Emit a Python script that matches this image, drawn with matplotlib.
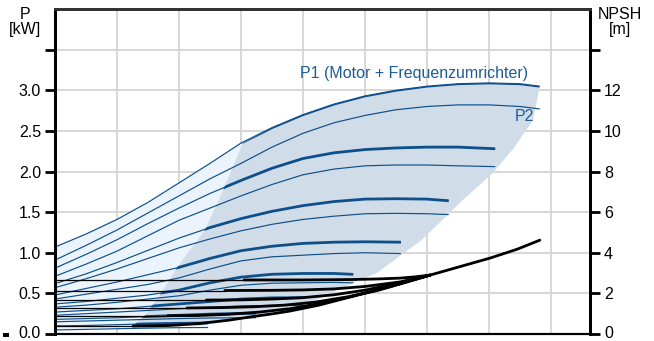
import matplotlib
matplotlib.use("Agg")
import matplotlib.pyplot as plt
import matplotlib.transforms as mtransforms
from matplotlib.patches import Polygon, Rectangle

plt.rcParams["font.family"] = ["Liberation Sans", "DejaVu Sans"]

# Leistungskurven je Drehzahlstufe: x = Förderstrom (Rastereinheiten), P in kW
speed_x = [
    [0, 0.5, 1, 1.5, 2, 2.5, 3, 3.5, 4, 4.5, 5, 5.5, 6, 6.5, 7, 7.5, 7.82],
    [0, 0.5, 1, 1.5, 2, 2.5, 3, 3.5, 4, 4.5, 5, 5.5, 6, 6.5, 7.10],
    [0, 0.5, 1, 1.5, 2, 2.5, 3, 3.5, 4, 4.5, 5, 5.5, 6, 6.35],
    [0, 0.5, 1, 1.5, 2, 2.5, 3, 3.5, 4, 4.5, 5, 5.58],
    [0, 0.5, 1, 1.5, 2, 2.5, 3, 3.5, 4, 4.5, 4.81],
    [0, 0.5, 1, 1.5, 2, 2.5, 3, 3.5, 4.02],
    [0, 0.5, 1, 1.5, 2, 2.5, 3, 3.24],
    [0, 0.5, 1, 1.5, 2, 2.47],
]
# P1 (Motor + Frequenzumrichter)
p1_y = [
    [1.07, 1.23, 1.41, 1.62, 1.86, 2.10, 2.35, 2.54, 2.70, 2.83, 2.93, 3.00, 3.05, 3.08, 3.09, 3.08, 3.05],
    [0.81, 0.98, 1.16, 1.36, 1.55, 1.73, 1.89, 2.04, 2.16, 2.23, 2.27, 2.29, 2.30, 2.30, 2.28],
    [0.62, 0.74, 0.88, 1.03, 1.18, 1.31, 1.42, 1.51, 1.58, 1.63, 1.66, 1.665, 1.66, 1.64],
    [0.48, 0.56, 0.64, 0.73, 0.82, 0.93, 1.025, 1.08, 1.115, 1.13, 1.135, 1.13],
    [0.37, 0.40, 0.44, 0.48, 0.54, 0.63, 0.70, 0.735, 0.745, 0.745, 0.734],
    [0.27, 0.29, 0.31, 0.34, 0.37, 0.40, 0.43, 0.445, 0.447],
    [0.18, 0.19, 0.20, 0.215, 0.23, 0.245, 0.253, 0.255],
    [0.10, 0.105, 0.115, 0.125, 0.132, 0.135],
]
# P2
p2_y = [
    [0.91, 1.09, 1.28, 1.49, 1.70, 1.91, 2.10, 2.30, 2.47, 2.60, 2.69, 2.76, 2.80, 2.82, 2.82, 2.80, 2.77],
    [0.71, 0.86, 1.02, 1.21, 1.40, 1.55, 1.70, 1.84, 1.96, 2.03, 2.07, 2.08, 2.08, 2.07, 2.06],
    [0.57, 0.68, 0.80, 0.93, 1.06, 1.17, 1.27, 1.35, 1.41, 1.45, 1.48, 1.485, 1.48, 1.47],
    [0.43, 0.49, 0.55, 0.61, 0.69, 0.80, 0.90, 0.95, 0.97, 0.99, 1.00, 0.99],
    [0.33, 0.355, 0.39, 0.43, 0.47, 0.54, 0.60, 0.625, 0.63, 0.635, 0.63],
    [0.23, 0.25, 0.27, 0.29, 0.31, 0.33, 0.345, 0.352, 0.353],
    [0.15, 0.16, 0.17, 0.18, 0.19, 0.197, 0.20, 0.20],
    [0.05, 0.057, 0.065, 0.072, 0.078, 0.08],
]

# Grenzen des Betriebsbereichs (dunkle Fläche)
area_right_x = [7.82, 7.71, 7.39, 7.06, 6.58, 5.92, 5.19, 4.81, 4.0, 3.15, 2.34, 1.24]
area_right_y = [3.05, 2.63, 2.28, 1.98, 1.65, 1.16, 0.75, 0.63, 0.34, 0.20, 0.10, 0.09]
area_left_x = [1.24, 1.45, 1.69, 1.97, 2.42, 2.71, 3.03]
area_left_y = [0.09, 0.23, 0.48, 0.82, 1.28, 1.77, 2.35]

# NPSH-Kurven [m]
npsh_x = [
    [3.05, 4.0, 4.76, 5.2, 5.56, 5.8, 6.05],
    [2.74, 3.5, 4.0, 4.5, 5.0, 5.56, 6.05],
    [2.44, 3.0, 3.5, 4.0, 4.5, 5.0, 5.56, 6.05],
    [2.13, 2.7, 3.2, 3.7, 4.2, 4.7, 5.2, 5.6, 6.05],
    [1.82, 2.3, 2.8, 3.3, 3.8, 4.3, 4.8, 5.3, 5.7, 6.05],
    [1.26, 1.6, 1.85, 2.34, 2.8, 3.15, 3.5, 3.79, 4.27, 4.76, 5.2, 5.56, 6.05, 6.5, 7.02, 7.45, 7.82],
]
npsh_y = [
    [2.66, 2.66, 2.68, 2.71, 2.75, 2.81, 2.90],
    [2.14, 2.15, 2.17, 2.22, 2.34, 2.56, 2.90],
    [1.67, 1.68, 1.72, 1.79, 1.93, 2.16, 2.51, 2.90],
    [1.28, 1.30, 1.34, 1.42, 1.57, 1.82, 2.14, 2.50, 2.90],
    [0.90, 0.91, 0.97, 1.08, 1.25, 1.52, 1.86, 2.25, 2.60, 2.90],
    [0.39, 0.40, 0.42, 0.52, 0.68, 0.84, 0.99, 1.13, 1.43, 1.82, 2.17, 2.46, 2.90, 3.29, 3.74, 4.17, 4.62],
]

p_ticks = [0.0, 0.5, 1.0, 1.5, 2.0, 2.5, 3.0, 3.5]
p_labels = ["0.0", "0.5", "1.0", "1.5", "2.0", "2.5", "3.0", ""]
npsh_ticks = [0, 2, 4, 6, 8, 10, 12, 14]
npsh_labels = ["0", "2", "4", "6", "8", "10", "12", ""]

BLUE = "#0d4f8b"
TEXT_BLUE = "#1f5c96"
DARK_FILL = "#d0dce8"
LIGHT_FILL = "#ebf4fc"

fig = plt.figure(figsize=(6.54, 3.41), dpi=100)
W, H = 654, 341
ax = fig.add_axes([55 / W, 7 / H, 535 / W, 325 / H])
ax.set_xlim(0, 535 / 62)
ax.set_ylim(0, 4.0)

ax.set_xticks(range(1, 9))
ax.set_xticklabels([])
ax.tick_params(axis="x", length=0)
ax.set_yticks(p_ticks)
ax.set_yticklabels(p_labels, fontsize=11.5)
ax.tick_params(axis="y", direction="out", length=7, width=2, pad=3)
ax.grid(True, color="#d4d4d4", linewidth=1.3)
ax.set_axisbelow(True)

# helle Fläche links vom Betriebsbereich
top_x = [x for x in speed_x[0] if x <= 3.03]
top_y = p1_y[0][: len(top_x)]
light_pts = (list(zip(top_x, top_y)) + [(3.03, 2.35)]
             + list(zip(area_left_x[::-1], area_left_y[::-1])) + [(0, 0.05)])
ax.add_patch(Polygon(light_pts, closed=True, facecolor=LIGHT_FILL, edgecolor="none", zorder=1))

# dunkle Fläche (Betriebsbereich)
dark_top = [(3.03, 2.35)] + [(x, y) for x, y in zip(speed_x[0], p1_y[0]) if x > 3.03]
dark_pts = dark_top + list(zip(area_right_x, area_right_y)) + list(zip(area_left_x, area_left_y))
dark = Polygon(dark_pts, closed=True, facecolor=DARK_FILL, edgecolor="none", zorder=1)
ax.add_patch(dark)

for xs, y1, y2 in zip(speed_x, p1_y, p2_y):
    ax.plot(xs, y1, color=BLUE, linewidth=0.85, zorder=3, solid_capstyle="butt")
    # P1 im Betriebsbereich dick
    thick, = ax.plot(xs, y1, color=BLUE, linewidth=2.0, zorder=4, solid_capstyle="butt")
    thick.set_clip_path(dark)
    ax.plot(xs, y2, color=BLUE, linewidth=0.85, zorder=3, solid_capstyle="butt")

ax2 = ax.twinx()
ax2.set_ylim(0, 16)
ax2.set_yticks(npsh_ticks)
ax2.set_yticklabels(npsh_labels, fontsize=11.5)
ax2.tick_params(axis="y", direction="out", length=7, width=2, pad=3)

for xs, ys in zip(npsh_x, npsh_y):
    ax2.plot([0, xs[0]], [ys[0], ys[0]], color="black", linewidth=0.9, zorder=3)
    ax2.plot(xs, ys, color="black", linewidth=2.0, zorder=3, solid_capstyle="round")

for a in (ax, ax2):
    a.spines["left"].set_linewidth(2)
    a.spines["right"].set_linewidth(2)
    a.spines["top"].set_linewidth(2)
    a.spines["top"].set_color("#333333")
    a.spines["bottom"].set_linewidth(1.5)

# unterste Beschriftungen etwas anheben, damit sie nicht am Rand abgeschnitten werden
nudge = mtransforms.ScaledTranslation(0, 2 / 100, fig.dpi_scale_trans)
for lbl in (ax.get_yticklabels()[0], ax2.get_yticklabels()[0]):
    lbl.set_transform(lbl.get_transform() + nudge)

ax.text(3.95, 3.21, "P1 (Motor + Frequenzumrichter)", color=TEXT_BLUE, fontsize=11.5,
        ha="left", va="center", zorder=5)
ax.text(7.42, 2.68, "P2", color=TEXT_BLUE, fontsize=11.5, ha="left", va="center", zorder=5)

fig.text(25 / W, 1 - 22 / H, "P\n[kW]", ha="center", va="center", fontsize=11.5, linespacing=0.95)
fig.text(620 / W, 1 - 22 / H, "NPSH\n[m]", ha="center", va="center", fontsize=11.5, linespacing=0.95)
fig.patches.append(Rectangle((3 / W, 4 / H), 6 / W, 4 / H, transform=fig.transFigure,
                             facecolor="black", edgecolor="none"))

fig.savefig("out.png", dpi=100)
